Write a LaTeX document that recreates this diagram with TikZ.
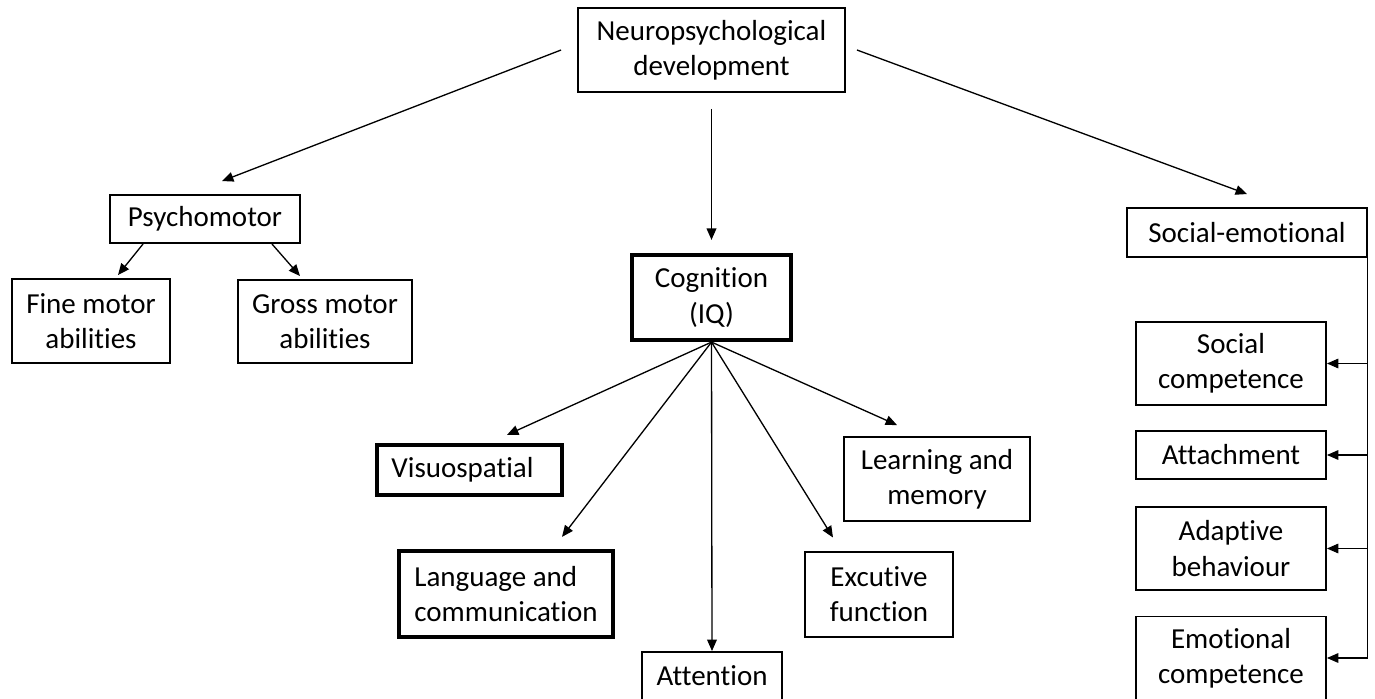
\documentclass[tikz,border=0pt]{standalone}
\usepackage{fontspec}
\setmainfont{Carlito}[Ligatures=NoCommon]
\usepackage{tikz}
\usetikzlibrary{arrows.meta,calc}

\begin{document}
\begin{tikzpicture}[x=0.02cm, y=-0.02cm]

\tikzstyle{block} = [rectangle, draw=black, line width=1.1pt, align=center, inner sep=0pt, font=\fontsize{16.5}{20}\selectfont]
\tikzstyle{thickblock} = [block, line width=2.4pt]
\tikzstyle{arrow} = [line width=0.75pt, -{Triangle[length=6.5pt,width=5.5pt]}]

\useasboundingbox (0,0) rectangle (1375,699);

\node (neuro) [block, minimum width=5.34cm, minimum height=1.68cm] at (711.5,50) {Neuropsychological\\development};
\node (psycho) [block, minimum width=3.8cm, minimum height=0.96cm] at (205,219) {Psychomotor};
\node (fine) [block, minimum width=3.16cm, minimum height=1.68cm] at (91,321) {Fine motor\\abilities};
\node (gross) [block, minimum width=3.48cm, minimum height=1.66cm] at (325,321.5) {Gross motor\\abilities};
\node (cog) [thickblock, minimum width=3.18cm, minimum height=1.7cm] at (711.5,297.5) {Cognition\\(IQ)};
\node (social) [block, minimum width=4.8cm, minimum height=0.98cm] at (1247,232.5) {Social-emotional};

\node (vis) [thickblock, minimum width=3.7cm, minimum height=1.0cm] at (469.5,470) {Visuospatial\hspace{0.28cm}};
\node (lang) [thickblock, minimum width=4.28cm, minimum height=1.72cm, align=left] at (506,594) {Language and\\communication};
\node (attn) [block, minimum width=2.8cm, minimum height=0.96cm] at (712,676) {Attention};
\node (exec) [block, minimum width=2.96cm, minimum height=1.7cm] at (879,594.5) {Excutive\\function};
\node (learn) [block, minimum width=3.72cm, minimum height=1.68cm] at (937,479) {Learning and\\memory};

\node (scomp) [block, minimum width=3.8cm, minimum height=1.66cm] at (1231,363.5) {Social\\competence};
\node (attach) [block, minimum width=3.8cm, minimum height=0.96cm] at (1231,455) {Attachment};
\node (adapt) [block, minimum width=3.8cm, minimum height=1.66cm] at (1231,548.5) {Adaptive\\behaviour};
\node (ecomp) [block, minimum width=3.8cm, minimum height=1.66cm] at (1231,658) {Emotional\\competence};

% top level
\draw [arrow] ([xshift=-0.32cm]neuro.west) -- ([xshift=0.34cm, yshift=0.26cm]psycho.north);
\draw [arrow] ([yshift=-0.32cm]neuro.south) -- ([yshift=0.26cm]cog.north);
\draw [arrow] ([xshift=0.22cm]neuro.east) -- ([yshift=0.26cm]social.north);

% psychomotor
\draw [arrow] ([xshift=0.68cm]psycho.south west) -- ([xshift=0.54cm, yshift=0.06cm]fine.north);
\draw [arrow] ([xshift=-0.58cm]psycho.south east) -- ([xshift=-0.5cm, yshift=0.06cm]gross.north);

% cognition
\draw [arrow] (cog.south) -- ([xshift=0.75cm, yshift=0.16cm]vis.north);
\draw [arrow] (cog.south) -- ([xshift=1.12cm, yshift=0.24cm]lang.north);
\draw [arrow] (cog.south) -- (attn.north);
\draw [arrow] (cog.south) -- ([xshift=-0.92cm, yshift=0.27cm]exec.north);
\draw [arrow] (cog.south) -- ([xshift=-0.8cm, yshift=0.22cm]learn.north);

% social-emotional
\draw [arrow, line width=0.6pt] (social.south east) |- (ecomp.east);
\draw [arrow, line width=0.6pt] (scomp.east -| social.east) -- (scomp.east);
\draw [arrow, line width=0.6pt] (attach.east -| social.east) -- (attach.east);
\draw [arrow, line width=0.6pt] (adapt.east -| social.east) -- (adapt.east);
\end{tikzpicture}
\end{document}
